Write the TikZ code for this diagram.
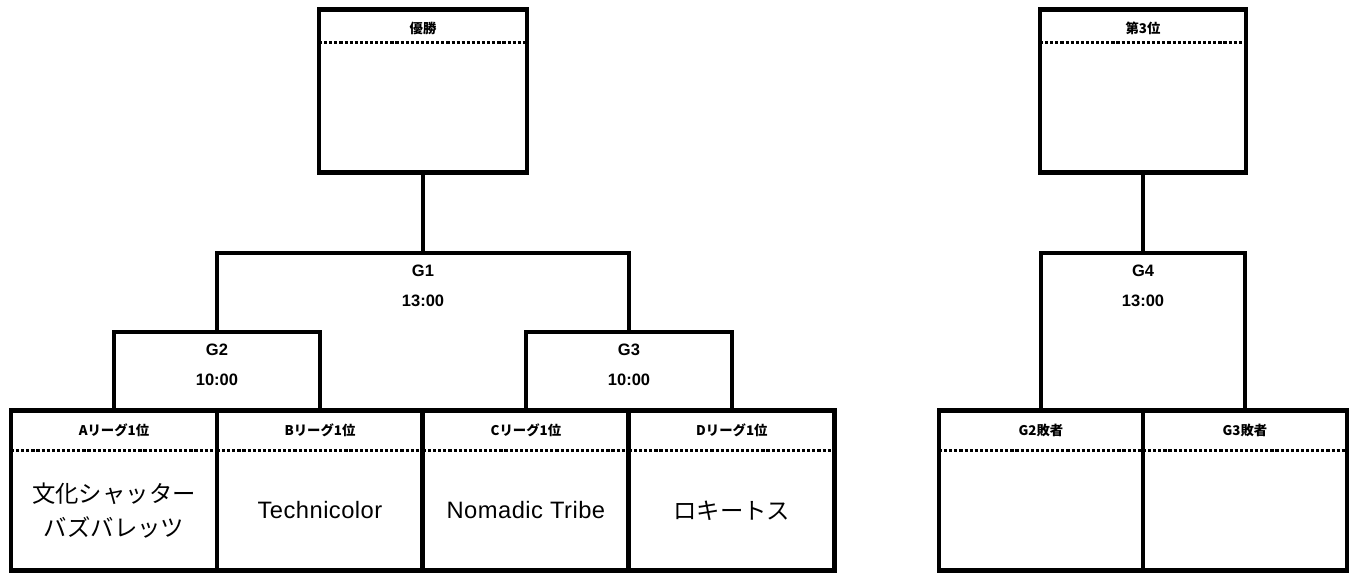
\documentclass[tikz,border=0pt]{standalone}
\usepackage{fontspec}
\newfontfamily\jpfont{Noto Sans CJK JP}
\newfontfamily\latinfont{Liberation Sans}
\newfontfamily\teamfont[LetterSpace=2]{Liberation Sans}
\usetikzlibrary{positioning}

\begin{document}
\begin{tikzpicture}[%
  x=0.02cm, y=-0.02cm,
  box/.style={draw, line width=2.8pt, minimum width=4.12cm,
    minimum height=3.2cm, inner sep=0pt, outer sep=0pt},
  link/.style={line width=1.9pt},
  dotsep/.style={line width=1.4pt, dash pattern=on 1.8pt off 1.1pt},
  title/.style={font=\jpfont\bfseries\fontsize{7.6}{9}\selectfont, inner sep=0pt},
  game/.style={font=\latinfont\bfseries\fontsize{9.4}{17}\selectfont,
    align=center, inner sep=0pt},
  team/.style={font=\teamfont\fontsize{13.5}{19}\selectfont, align=center, inner sep=0pt},
  teamjp/.style={font=\jpfont\fontsize{13.3}{19}\selectfont, align=center, inner sep=0pt},
]

  \useasboundingbox (0,0) rectangle (1351,574);

  % bracket points
  \coordinate (g2top) at (217,332);
  \coordinate (g3top) at (629,332);
  \coordinate (g1top) at (423,253);
  \coordinate (g4top) at (1143,253);

  % first round boxes
  \node[box] (teamA) at (114,490.5) {};
  \node[box, right=0pt of teamA] (teamB) {};
  \node[box, right=0pt of teamB] (teamC) {};
  \node[box, right=0pt of teamC] (teamD) {};

  % final and third place
  \node[box, minimum width=4.16cm, minimum height=3.26cm] (winner) at (423,91) {};
  \node[box, minimum height=3.26cm] (third) at (1143,91) {};

  \node[box, minimum width=4.08cm] (loserB) at (1041,490.5) {};
  \node[box, minimum width=4.08cm, right=0pt of loserB] (loserC) {};

  \draw[dotsep] ([yshift=-0.66cm]winner.north west) -- ([yshift=-0.66cm]winner.north east);
  \draw[dotsep] ([yshift=-0.66cm]third.north west) -- ([yshift=-0.66cm]third.north east);
  \foreach \b in {teamA,teamB,teamC,teamD,loserB,loserC}
    \draw[dotsep] ([yshift=-0.8cm]\b.north west) -- ([yshift=-0.8cm]\b.north east);

  \node[title] (titleW) at ([yshift=-0.38cm]winner.north) {優勝};
  \node[title] (titleT) at ([yshift=-0.38cm]third.north) {第3位};
  \node[title] (titleA) at ([yshift=-0.39cm]teamA.north) {Aリーグ1位};
  \node[title] (titleB) at ([yshift=-0.39cm]teamB.north) {Bリーグ1位};
  \node[title] (titleC) at ([yshift=-0.39cm]teamC.north) {Cリーグ1位};
  \node[title] (titleD) at ([yshift=-0.39cm]teamD.north) {Dリーグ1位};
  \node[title] (titleLB) at ([yshift=-0.39cm]loserB.north) {G2敗者};
  \node[title] (titleLC) at ([yshift=-0.39cm]loserC.north) {G3敗者};

  \node[teamjp] (nameA) at ([yshift=-0.4cm]teamA.center) {文化シャッター\\バズバレッツ};
  \node[team] (nameB) at ([yshift=-0.4cm]teamB.center) {Technicolor};
  \node[team] (nameC) at ([yshift=-0.4cm]teamC.center) {Nomadic Tribe};
  \node[teamjp] (nameD) at ([yshift=-0.4cm]teamD.center) {ロキートス};

  % brackets
  \draw[link] (teamA.north) |- (g2top) -| (teamB.north);
  \draw[link] (teamC.north) |- (g3top) -| (teamD.north);
  \draw[link] (g2top) |- (g1top) -| (g3top);
  \draw[link] (g1top) -- (winner.south);
  \draw[link] (loserB.north) |- (g4top) -| (loserC.north);
  \draw[link] (g4top) -- (third.south);

  \node[game, below=6.8pt of g1top] (g1) {G1\\13:00};
  \node[game, below=6.8pt of g2top] (g2) {G2\\10:00};
  \node[game, below=6.8pt of g3top] (g3) {G3\\10:00};
  \node[game, below=6.8pt of g4top] (g4) {G4\\13:00};

\end{tikzpicture}
\end{document}
